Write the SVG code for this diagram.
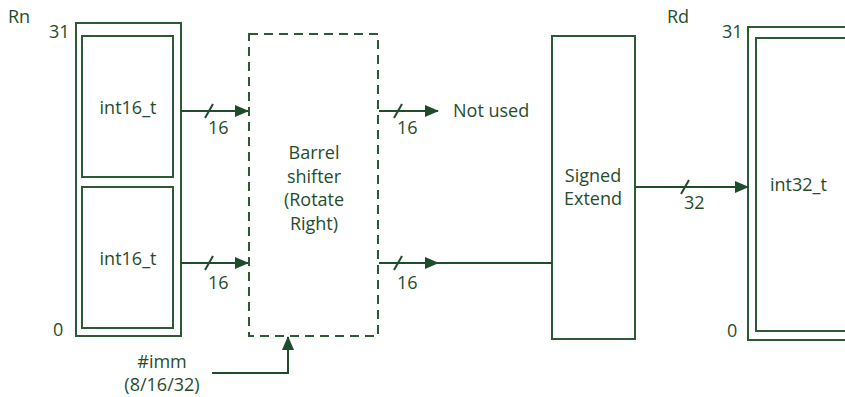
<svg xmlns="http://www.w3.org/2000/svg" width="845" height="397" viewBox="0 0 845 397">
<style>
text{font-family:"Open Sans","Liberation Sans",sans-serif;font-size:18px;fill:#1f4d2c}
.c{text-anchor:middle}
.box{fill:none;stroke:#2a5a36;stroke-width:2}
.dash{fill:none;stroke:#2a5a36;stroke-width:2;stroke-dasharray:9 6}
.ln{fill:none;stroke:#1f4d2c;stroke-width:2}
</style>
<defs>
<marker id="ah" markerWidth="14" markerHeight="12" refX="13" refY="6" orient="auto" markerUnits="userSpaceOnUse">
<path d="M0,0 L14,6 L0,12 Z" fill="#1f4d2c"/>
</marker>
</defs>
<rect width="845" height="397" fill="#fff"/>
<g id="rn">
<text x="8" y="23">Rn</text>
<text x="49" y="38">31</text>
<text x="53" y="336">0</text>
<rect class="box" x="76" y="23" width="105" height="313"/>
<g id="rn_hi"><rect class="box" x="82" y="36" width="91" height="141"/><text class="c" x="128" y="114">int16_t</text></g>
<g id="rn_lo"><rect class="box" x="82" y="187" width="91" height="141"/><text class="c" x="128" y="265">int16_t</text></g>
</g>
<g id="barrel">
<rect class="dash" x="249" y="34" width="129" height="302"/>
<text class="c" x="314" y="159">Barrel</text>
<text class="c" x="314" y="183">shifter</text>
<text class="c" x="314" y="206">(Rotate</text>
<text class="c" x="314" y="230">Right)</text>
</g>
<g id="extend">
<rect class="box" x="552" y="36" width="83" height="303"/>
<text class="c" x="593" y="182">Signed</text>
<text class="c" x="593" y="205">Extend</text>
</g>
<g id="rd">
<text x="667" y="23">Rd</text>
<text x="722" y="38">31</text>
<text x="727" y="337">0</text>
<rect class="box" x="748" y="27" width="110" height="313"/>
<rect class="box" x="756" y="38" width="100" height="293"/>
<text x="770" y="191">int32_t</text>
</g>
<g id="imm">
<text class="c" x="162" y="368">#imm</text>
<text class="c" x="162" y="391">(8/16/32)</text>
</g>
<g id="notused"><text x="453" y="117">Not used</text></g>
<g id="connectors">
<line class="ln" x1="181" y1="111" x2="248" y2="111" marker-end="url(#ah)"/>
<line class="ln" x1="205" y1="118" x2="213" y2="104"/>
<text x="208" y="134">16</text>
<line class="ln" x1="181" y1="263" x2="248" y2="263" marker-end="url(#ah)"/>
<line class="ln" x1="205" y1="270" x2="213" y2="256"/>
<text x="208" y="289">16</text>
<line class="ln" x1="379" y1="111" x2="438" y2="111" marker-end="url(#ah)"/>
<line class="ln" x1="394" y1="118" x2="402" y2="104"/>
<text x="397" y="134">16</text>
<line class="ln" x1="379" y1="263" x2="438" y2="263" marker-end="url(#ah)"/>
<line class="ln" x1="436" y1="263" x2="552" y2="263"/>
<line class="ln" x1="394" y1="270" x2="402" y2="256"/>
<text x="397" y="289">16</text>
<line class="ln" x1="635" y1="187" x2="748" y2="187" marker-end="url(#ah)"/>
<line class="ln" x1="681" y1="194" x2="689" y2="180"/>
<text x="684" y="209">32</text>
<polyline class="ln" points="212,373 288,373 288,337" marker-end="url(#ah)"/>
</g>
</svg>
